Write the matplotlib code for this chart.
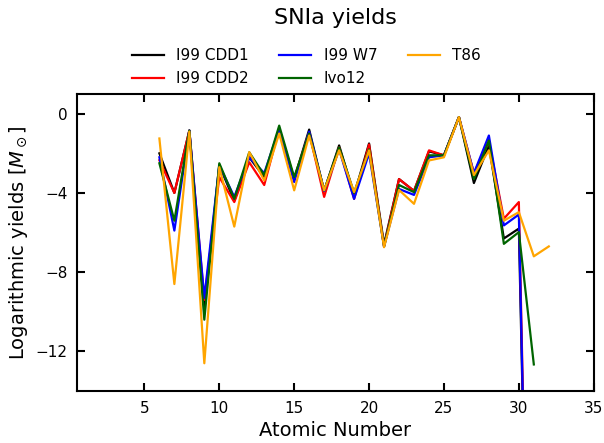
import matplotlib
matplotlib.use('Agg')
import matplotlib.pyplot as plt
import numpy as np

# atomic numbers
z_short = np.arange(6, 32)   # C .. Ga
z_long = np.arange(6, 33)    # C .. Ge

i99_cdd1 = [-2.0, -4.0, -0.85, -9.8, -2.6, -4.4, -2.2, -3.2, -0.75, -3.3, -0.8, -3.9, -1.6,
            -4.1, -1.5, -6.6, -3.3, -3.9, -1.9, -2.1, -0.17, -3.5, -1.6, -6.3, -5.8, -40.0]
i99_cdd2 = [-2.35, -4.0, -0.85, -9.4, -3.2, -4.46, -2.45, -3.6, -0.75, -3.3, -0.95, -4.2, -1.7,
            -4.3, -1.55, -6.7, -3.3, -3.9, -1.85, -2.1, -0.17, -3.0, -1.4, -5.3, -4.46, -40.0]
i99_w7 = [-2.2, -5.9, -0.85, -9.3, -2.6, -4.2, -2.2, -3.0, -0.75, -3.45, -0.9, -3.9, -1.8,
          -4.3, -2.0, -6.7, -3.8, -4.1, -2.2, -2.1, -0.17, -3.0, -1.1, -5.64, -5.09, -40.0]
ivo12 = [-2.5, -5.4, -0.85, -10.4, -2.5, -4.3, -1.95, -3.1, -0.6, -3.2, -1.0, -3.87, -1.7,
         -4.0, -1.8, -6.7, -3.6, -3.96, -2.1, -2.1, -0.17, -3.3, -1.35, -6.57, -5.98, -12.66]
t86 = [-1.25, -8.6, -0.9, -12.6, -2.7, -5.7, -1.94, -3.37, -1.0, -3.87, -1.1, -3.87, -1.85,
       -3.96, -1.85, -6.74, -3.85, -4.55, -2.36, -2.2, -0.17, -3.1, -1.85, -5.4, -4.97, -7.2, -6.7]

fig = plt.figure(figsize=(6.04, 4.43), dpi=100)
ax = fig.add_axes([0.1275, 0.1174, 0.8555, 0.6706])

ax.plot(z_short, i99_cdd1, color='black', lw=1.6, label='I99 CDD1')
ax.plot(z_short, i99_cdd2, color='red', lw=1.6, label='I99 CDD2')
ax.plot(z_short, i99_w7, color='blue', lw=1.6, label='I99 W7')
ax.plot(z_short, ivo12, color='darkgreen', lw=1.6, label='Ivo12')
ax.plot(z_long, t86, color='orange', lw=1.6, label='T86')

ax.set_xlim(0.5, 35)
ax.set_ylim(-14, 1)
ax.set_xticks([5, 10, 15, 20, 25, 30, 35])
ax.set_yticks([0, -4, -8, -12])
ax.tick_params(direction='in', top=True, right=True, length=6, width=1.5, labelsize=11, pad=7)
for s in ax.spines.values():
    s.set_linewidth(1.5)

ax.set_xlabel('Atomic Number', fontsize=14)
ax.set_ylabel(r'Logarithmic yields [$M_\odot$]', fontsize=14)
ax.set_title('SNIa yields', fontsize=16, pad=50)
# legend sits centred on the figure, not on the axes
fig.legend(loc='lower center', bbox_to_anchor=(0.507, 0.775), ncol=3, frameon=False,
           fontsize=11, handlelength=2.1, columnspacing=2.0, labelspacing=0.5)

fig.savefig('out.png', dpi=100)
